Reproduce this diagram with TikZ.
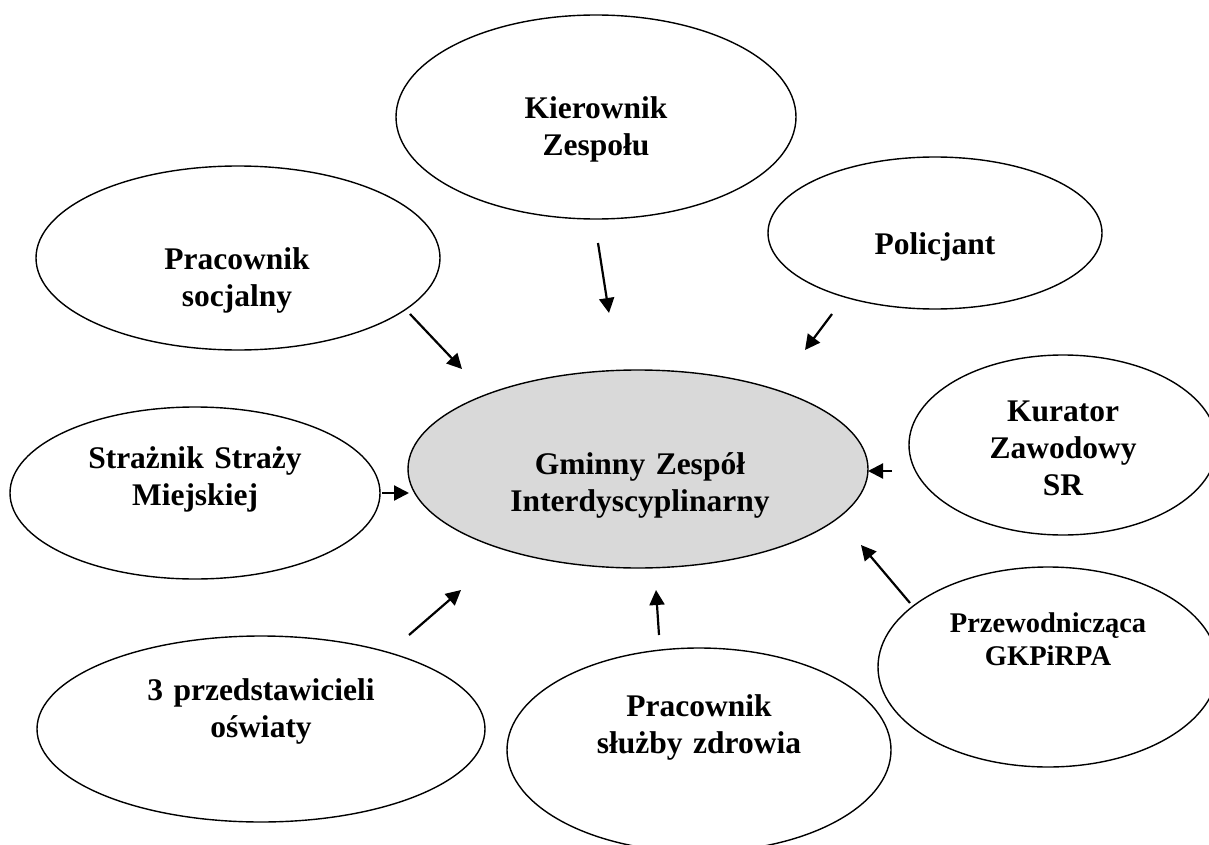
\documentclass[tikz,border=0pt]{standalone}
\usepackage{fontspec}
\setmainfont{Liberation Serif}
\usetikzlibrary{arrows.meta,shapes.geometric}
\begin{document}
\begin{tikzpicture}[x=1pt,y=-1pt,
  oval/.style={draw=black, line width=1.4pt, shape=ellipse, inner sep=0pt},
  lbl/.style={font=\fontsize{31.5}{37}\selectfont\bfseries, text width=420pt, align=center, anchor=base, inner sep=0pt},
  lblsmall/.style={lbl, font=\fontsize{28.5}{33}\selectfont\bfseries},
  arr/.style={line width=2.2pt, -{Triangle[length=15pt,width=15pt]}}]
\useasboundingbox (0,0) rectangle (1209,845);
\clip (0,0) rectangle (1209,845);
\fill[white] (0,0) rectangle (1209,845);

% ellipses
\node[oval, minimum width=400pt, minimum height=204pt] (kier) at (596,117) {};
\node[oval, minimum width=404pt, minimum height=184pt] (psoc) at (238,258) {};
\node[oval, minimum width=334pt, minimum height=152pt] (pol) at (935,233) {};
\node[oval, minimum width=370pt, minimum height=172pt] (straz) at (195,493) {};
\node[oval, fill=black!15, minimum width=460pt, minimum height=198pt] (gzi) at (638,469) {};
\node[oval, minimum width=308pt, minimum height=180pt] (kur) at (1063,445) {};
\node[oval, minimum width=340pt, minimum height=200pt] (prz) at (1048,667) {};
\node[oval, minimum width=448pt, minimum height=186pt] (osw) at (261,729) {};
\node[oval, minimum width=384pt, minimum height=204pt] (sluz) at (699,750) {};

% labels
\node[lbl] (kierT) at (596,119) {Kierownik\\Zespołu};
\node[lbl] (psocT) at (237,269) {Pracownik\\socjalny};
\node[lbl] (polT) at (935,254) {Policjant};
\node[lbl] (strazT) at (195,468) {Strażnik Straży\\Miejskiej};
\node[lbl] (gziT) at (640,474) {Gminny Zespół\\Interdyscyplinarny};
\node[lbl] (kurT) at (1063,421) {Kurator\\Zawodowy\\SR};
\node[lblsmall] (przT) at (1048,632) {Przewodnicząca\\GKPiRPA};
\node[lbl] (oswT) at (261,700) {3 przedstawicieli\\oświaty};
\node[lbl] (sluzT) at (699,716) {Pracownik\\służby zdrowia};

% arrow end points
\coordinate (a1s) at (598,243); \coordinate (a1e) at (609,313);
\coordinate (a2s) at (410,314); \coordinate (a2e) at (462,369);
\coordinate (a3s) at (832,314); \coordinate (a3e) at (805,350);
\coordinate (a4s) at (382,493); \coordinate (a4e) at (409,493);
\coordinate (a5s) at (892,471); \coordinate (a5e) at (868,471);
\coordinate (a6s) at (910,603); \coordinate (a6e) at (861,545);
\coordinate (a7s) at (659,635); \coordinate (a7e) at (656,590);
\coordinate (a8s) at (409,635); \coordinate (a8e) at (461,590);

\draw[arr] (a1s) -- (a1e);
\draw[arr] (a2s) -- (a2e);
\draw[arr] (a3s) -- (a3e);
\draw[arr] (a4s) -- (a4e);
\draw[arr] (a5s) -- (a5e);
\draw[arr] (a6s) -- (a6e);
\draw[arr] (a7s) -- (a7e);
\draw[arr] (a8s) -- (a8e);
\end{tikzpicture}
\end{document}
